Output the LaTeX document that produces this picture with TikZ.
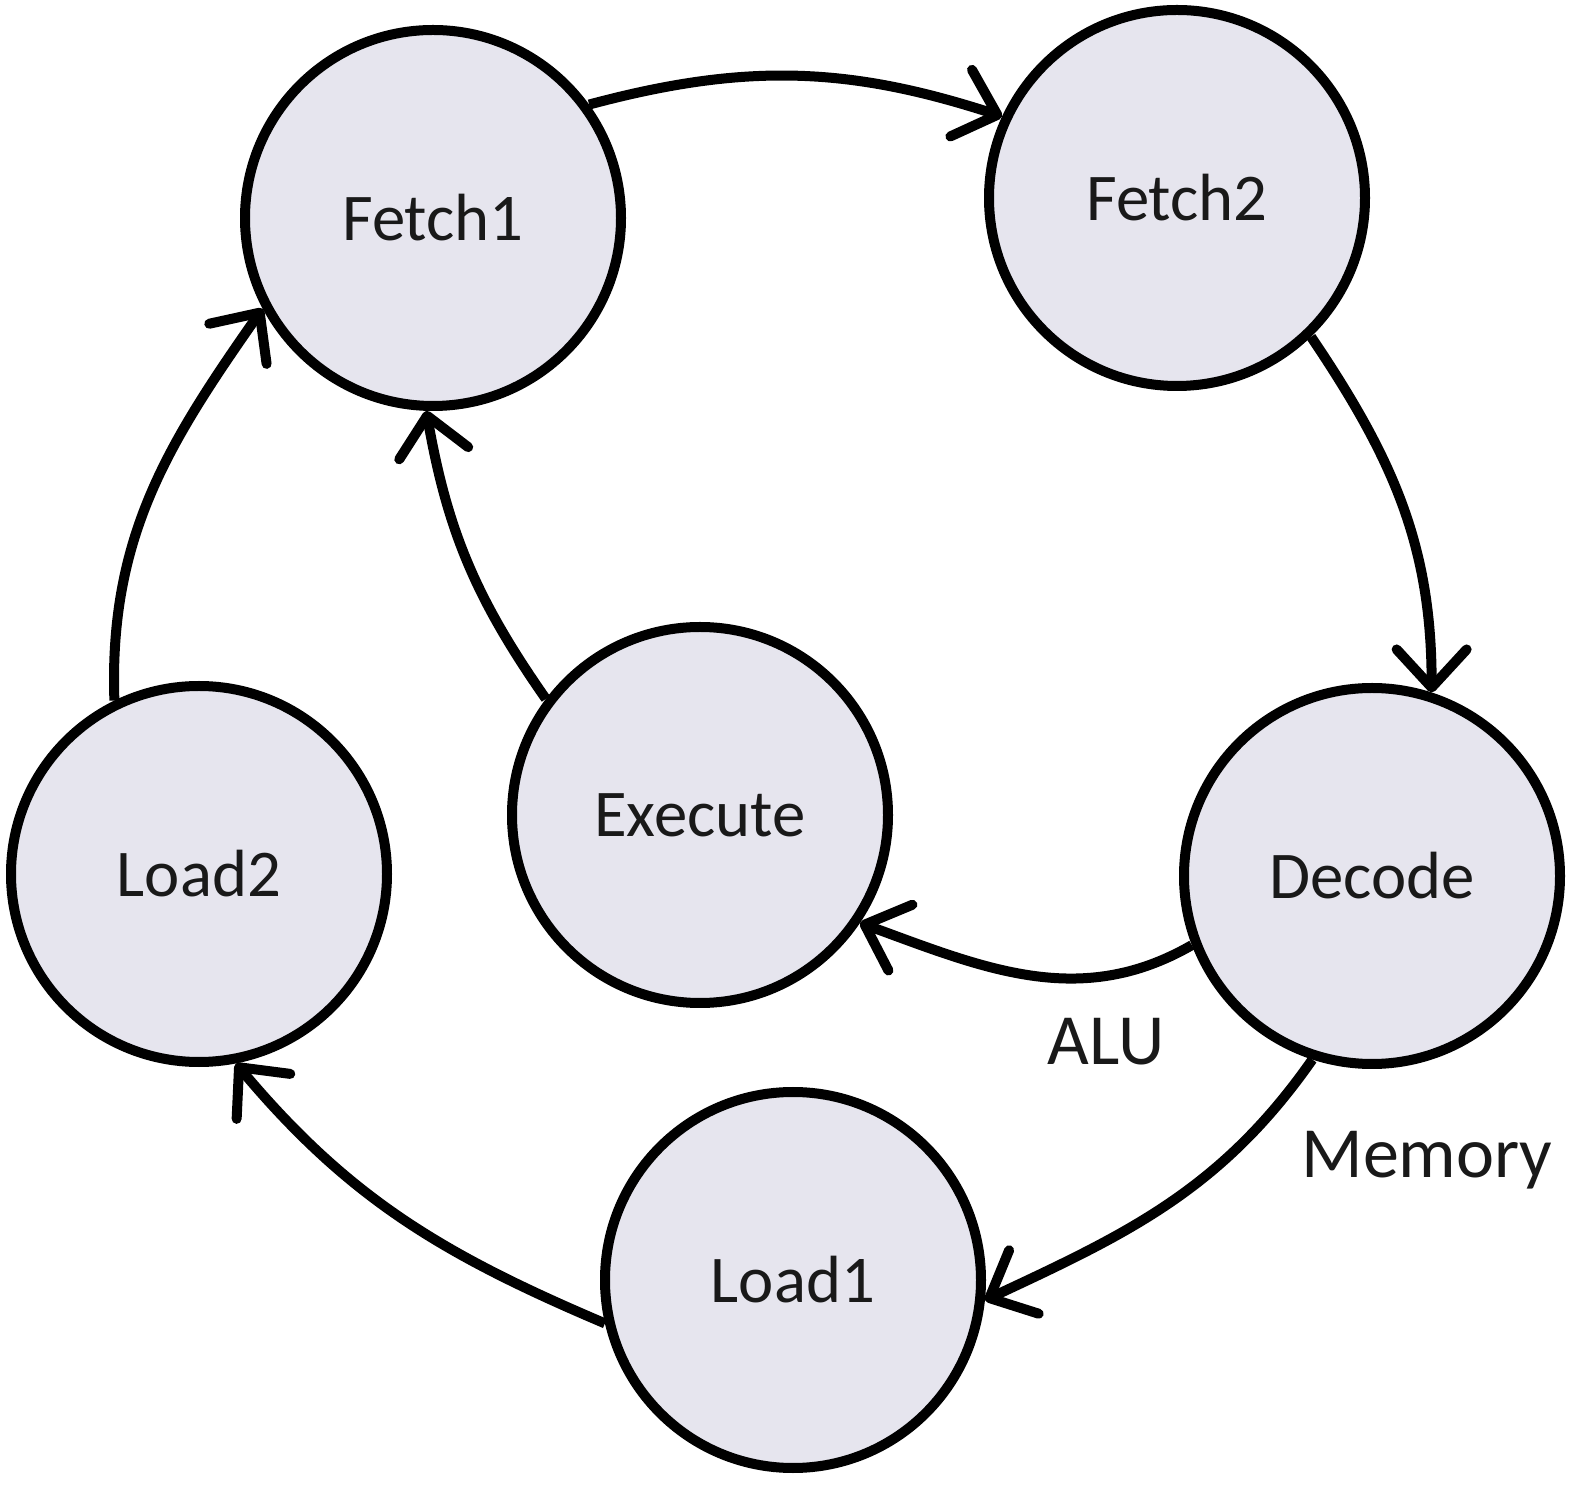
\documentclass[tikz,border=0pt]{standalone}
\usepackage{fontspec}
\setmainfont{Carlito}
\usetikzlibrary{arrows.meta,shapes}

\begin{document}
\begin{tikzpicture}[line width=0.10cm,
  >={Straight Barb[length=0.38cm,width=0.70cm,line cap=round,line join=round]}]
\tikzstyle{every node}=[draw,shape=circle,minimum size=3.76cm,fill=lavender,font=\fontsize{19}{23}\selectfont,text=black!90];
\tikzstyle{edgelabel}=[draw=none,fill=none,shape=rectangle,minimum size=0pt,inner sep=0pt,font=\fontsize{20.5}{24}\selectfont];
\definecolor{lavender}{RGB}{230,229,238}
\useasboundingbox (0,0) rectangle (15.70,14.86);

\path (4.33,12.68) node (fetch1) {Fetch1};
\path (11.77,12.88) node (fetch2) {Fetch2};
\path (13.72,6.10) node (decode) {Decode};
\path (7.00,6.71) node (execute) {Execute};
\path (1.99,6.12) node (load2) {Load2};
\path (7.93,2.06) node (load1) {Load1};

\path (11.06,4.44) node[edgelabel] (alu) {ALU};
\path (14.27,3.26) node[edgelabel] (memory) {Memory};

\draw[->] (fetch1.36) to[out=15,in=162] (fetch2.155);
\draw[->] (fetch2.-46) to[out=-56,in=90] (decode.72);
\draw[->] (decode.201) to[out=210,in=-20] (execute.-34);
\draw[->] (decode.-108) to[out=-125,in=25] (load1.-6);
\draw[->] (load1.193) to[out=157,in=-50] (load2.-79);
\draw[->] (load2.116) to[out=92,in=235] (fetch1.208);
\draw[->] (execute.143) to[out=125,in=-80] (fetch1.-92);
\end{tikzpicture}
\end{document}
